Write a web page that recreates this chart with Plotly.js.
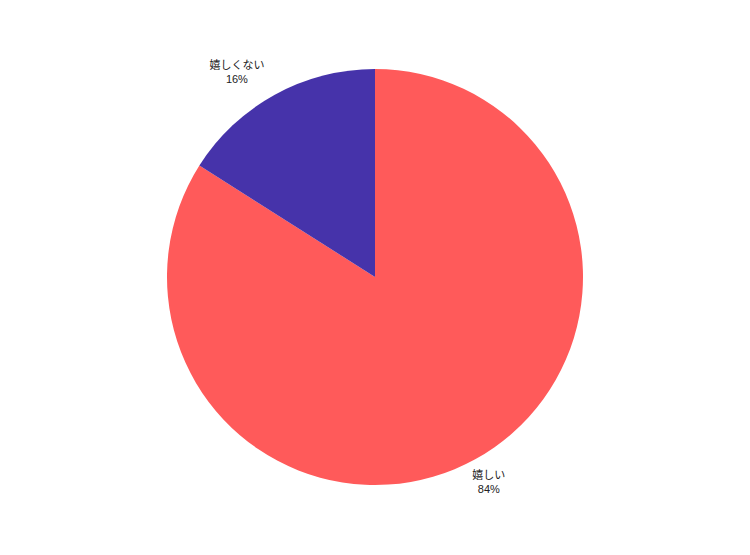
<!DOCTYPE html>
<html>
<head>
<meta charset="utf-8">
<script src="https://cdn.plot.ly/plotly-3.0.1.min.js"></script>
<style>html,body{margin:0;padding:0;background:#fff;}#chart{width:750px;height:555px;}</style>
</head>
<body>
<div id="chart"></div>
<script>
const labels = ["嬉しい", "嬉しくない"];
const values = [84, 16];
const colors = ["#FF5A5A", "#4633AA"];

const textFont = {size: 11, color: "#222", family: "'Liberation Sans', 'Noto Sans CJK JP', sans-serif"};

// visible pie (carries the label of the small slice)
const pie = {
  type: "pie",
  labels: labels,
  values: values,
  sort: false,
  direction: "clockwise",
  rotation: 0,
  marker: {colors: colors, line: {width: 0}},
  texttemplate: ["", "%{label}<br>%{percent:.0%}<br>\u00a0"],
  textposition: "outside",
  outsidetextfont: textFont,
  automargin: false,
  showlegend: false,
  hoverinfo: "label+percent",
  domain: {x: [0, 1], y: [0, 1]}
};

// label layer for the large slice, placed slightly left like the reference
const labelPie = {
  type: "pie",
  labels: labels,
  values: values,
  sort: false,
  direction: "clockwise",
  rotation: 0,
  marker: {colors: ["rgba(0,0,0,0)", "rgba(0,0,0,0)"], line: {width: 0}},
  texttemplate: ["\u00a0<br>%{label}<br>%{percent:.0%}", ""],
  textposition: "outside",
  outsidetextfont: textFont,
  automargin: false,
  showlegend: false,
  hoverinfo: "skip",
  domain: {x: [0, 0.9612], y: [0, 1]}
};

const layout = {
  width: 750,
  height: 555,
  margin: {l: 40, r: 40, t: 69, b: 70},
  paper_bgcolor: "#fff",
  plot_bgcolor: "#fff",
  showlegend: false,
  font: {family: "'Liberation Sans', 'Noto Sans CJK JP', sans-serif", color: "#222"}
};

Plotly.newPlot("chart", [pie, labelPie], layout, {displayModeBar: false, staticPlot: true});
</script>
</body>
</html>
